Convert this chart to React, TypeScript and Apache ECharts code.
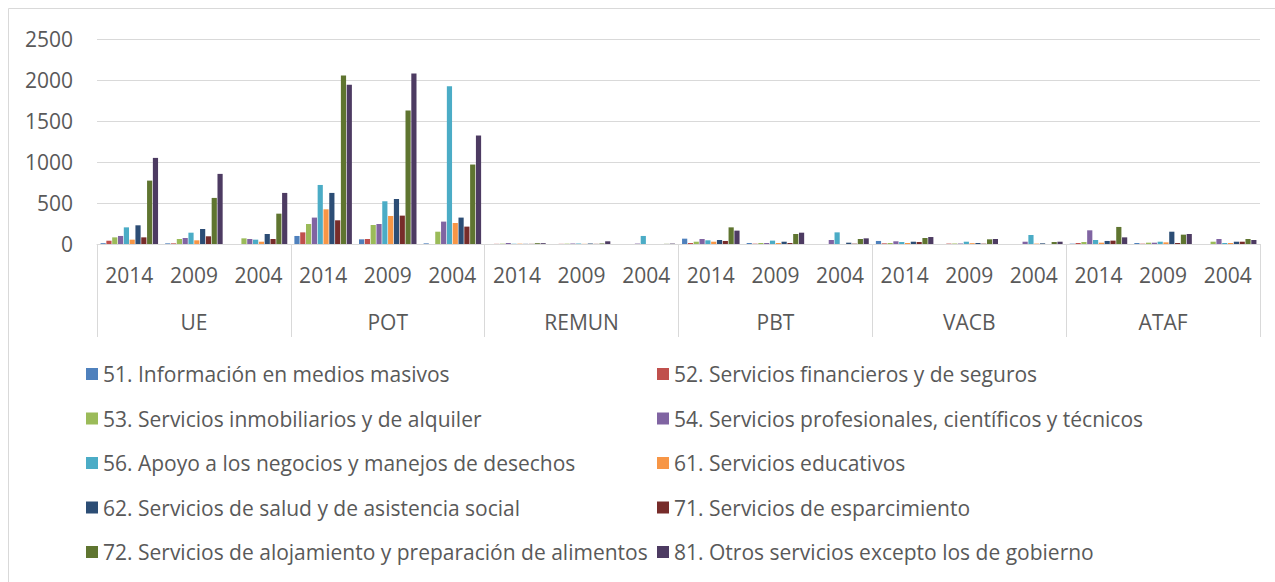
import React, { useEffect, useRef } from "react";
import * as echarts from "echarts";

const years = ["2014", "2009", "2004", "2014", "2009", "2004", "2014", "2009", "2004", "2014", "2009", "2004", "2014", "2009", "2004", "2014", "2009", "2004"];
const groups = ["UE", "POT", "REMUN", "PBT", "VACB", "ATAF"];
const yTicks = [0, 500, 1000, 1500, 2000, 2500];

const names = [
  "51. Información en medios masivos",
  "52. Servicios financieros y de seguros",
  "53. Servicios inmobiliarios y de alquiler",
  "54. Servicios profesionales, científicos y técnicos",
  "56. Apoyo a los negocios y manejos de desechos",
  "61. Servicios educativos",
  "62. Servicios de salud y de asistencia social",
  "71. Servicios de esparcimiento",
  "72. Servicios de alojamiento y preparación de alimentos",
  "81. Otros servicios excepto los de gobierno",
];
const colors = ["#4F81BD", "#C0504D", "#9BBB59", "#8064A2", "#4BACC6", "#F79646", "#2C4D75", "#772C2A", "#5F7530", "#4D3B62"];

const s51 = [10, 8, 0, 98, 57, 8, 0, 0, 0, 65, 12, 0, 37, 0, 0, 4, 12, 0];
const s52 = [40, 8, 0, 142, 61, 0, 2, 2, 0, 12, 4, 0, 8, 5, 0, 12, 4, 0];
const s53 = [81, 61, 69, 244, 232, 150, 4, 4, 0, 28, 12, 0, 12, 6, 0, 24, 16, 28];
const s54 = [98, 73, 61, 322, 244, 273, 12, 6, 5, 61, 12, 49, 33, 6, 28, 167, 16, 61];
const s56 = [203, 138, 53, 720, 521, 1925, 4, 6, 98, 45, 41, 142, 24, 28, 110, 49, 28, 12];
const s61 = [53, 45, 28, 423, 342, 256, 4, 2, 0, 28, 12, 0, 12, 10, 5, 16, 20, 12];
const s62 = [228, 183, 122, 623, 549, 322, 2, 6, 0, 49, 28, 16, 28, 12, 8, 37, 150, 28];
const s71 = [81, 94, 61, 289, 346, 212, 2, 2, 0, 37, 12, 4, 24, 4, 0, 41, 12, 28];
const s72 = [773, 562, 370, 2055, 1628, 969, 10, 6, 2, 203, 122, 61, 73, 57, 24, 208, 114, 61];
const s81 = [1050, 855, 623, 1941, 2080, 1323, 10, 33, 5, 163, 138, 69, 85, 61, 28, 81, 122, 49];

const seriesData = [s51, s52, s53, s54, s56, s61, s62, s71, s72, s81];

const FONT = "'Open Sans', sans-serif";
const TXT = "#595959";
const LINE = "#d9d9d9";
const FS = 21;

export default function App() {
  const ref = useRef<HTMLDivElement>(null);
  useEffect(() => {
    if (!ref.current) return;
    const chart = echarts.init(ref.current, null, { renderer: "svg" });
    const legendCommon = {
      orient: "vertical",
      top: 362,
      padding: 0,
      itemWidth: 12,
      itemHeight: 12,
      itemGap: 20.5,
      icon: "rect",
      textStyle: { fontFamily: FONT, fontSize: FS, color: TXT, lineHeight: 24 },
      selectedMode: false,
    };
    chart.setOption({
      animation: false,
      backgroundColor: "#ffffff",
      textStyle: { fontFamily: FONT },
      graphic: [
        {
          type: "rect",
          shape: { x: 8.5, y: 8.5, width: 1300, height: 600 },
          style: { fill: "none", stroke: LINE, lineWidth: 1 },
          silent: true,
        },
      ],
      legend: [
        { ...legendCommon, left: 86, data: [names[0], names[2], names[4], names[6], names[8]] },
        { ...legendCommon, left: 657, data: [names[1], names[3], names[5], names[7], names[9]] },
      ],
      grid: { left: 97, right: 15, top: 39, bottom: 338, containLabel: false },
      xAxis: [
        {
          type: "category",
          data: years,
          position: "bottom",
          axisLine: { show: true, lineStyle: { color: LINE, width: 1 } },
          axisTick: { show: false },
          axisLabel: { interval: 0, margin: 20, fontFamily: FONT, fontSize: FS, color: TXT },
        },
        {
          type: "category",
          data: groups,
          position: "bottom",
          offset: 0,
          axisLine: { show: false },
          axisTick: { show: true, length: 93, interval: 0, lineStyle: { color: LINE, width: 1 } },
          axisLabel: { interval: 0, margin: 67, fontFamily: FONT, fontSize: FS, color: TXT },
        },
      ],
      yAxis: {
        type: "value",
        min: yTicks[0],
        max: yTicks[yTicks.length - 1],
        interval: 500,
        axisLine: { show: false },
        axisTick: { show: false },
        splitLine: { lineStyle: { color: LINE, width: 1 } },
        axisLabel: { margin: 24, fontFamily: FONT, fontSize: FS, color: TXT, formatter: (v: number) => String(v) },
      },
      series: seriesData.map((d, i) => ({
        name: names[i],
        type: "bar",
        xAxisIndex: 0,
        data: d,
        itemStyle: { color: colors[i] },
        barGap: "12%",
        barCategoryGap: "11%",
      })),
    });
    return () => chart.dispose();
  }, []);
  return <div ref={ref} style={{ position: "fixed", left: 0, top: 0, width: 1275, height: 582 }} />;
}
